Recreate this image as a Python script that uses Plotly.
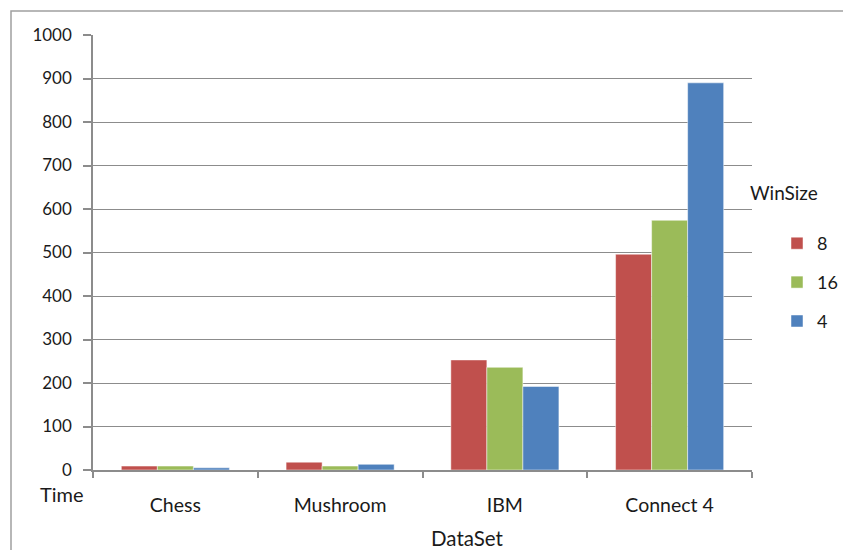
import plotly.graph_objects as go

categories = ["Chess", "Mushroom", "IBM", "Connect 4"]
series_names = ["8", "16", "4"]
vals_8 = [9, 18, 253, 496]
vals_16 = [9, 9, 236, 574]
vals_4 = [5, 13, 192, 890]
colors = ["#C0504D", "#9BBB59", "#4F81BD"]

FONT = "Lato"
PW = 750.0  # paper width between margins (l=93, r=0)
PH = 435.0  # paper height between margins (t=35, b=80)
fig = go.Figure()
for i, (name, vals) in enumerate(zip(series_names, [vals_8, vals_16, vals_4])):
    fig.add_trace(go.Bar(
        x=categories, y=vals, name=name, legendgroup=name,
        marker=dict(color=colors[i], line=dict(color="rgba(255,255,255,0.6)", width=0.8)),
    ))

grid = "#8C8C8C"
fig.update_layout(
    width=843, height=550,
    margin=dict(l=93, r=0, t=35, b=80),
    paper_bgcolor="white", plot_bgcolor="white",
    barmode="group", bargap=0.344, bargroupgap=0,
    font=dict(family=FONT, size=17, color="#1a1a1a"),
    showlegend=True,
    legend=dict(x=(777 - 93) / PW, y=0.5632, xanchor="left", yanchor="top",
                tracegroupgap=12.5, font=dict(size=18, family=FONT),
                itemwidth=30, bgcolor="rgba(0,0,0,0)"),
    xaxis=dict(domain=[0, 659 / PW], showline=True, linecolor=grid, linewidth=1.5,
               ticks="outside", tickson="boundaries", ticklen=6, tickcolor=grid,
               tickwidth=1.5, showgrid=False, ticklabelstandoff=17,
               tickfont=dict(size=19.5, family=FONT)),
    yaxis=dict(range=[0, 1000], dtick=100, showline=True, linecolor=grid, linewidth=1.5,
               ticks="outside", ticklen=8, tickcolor=grid, tickwidth=1.5,
               showgrid=True, gridcolor=grid, gridwidth=1.3, zeroline=False,
               ticklabelstandoff=8),
    annotations=[
        dict(text="Time", xref="paper", yref="paper", x=(62 - 93) / PW, y=-0.055,
             xanchor="center", yanchor="middle", showarrow=False,
             font=dict(size=20, family=FONT)),
        dict(text="WinSize", xref="paper", yref="paper", x=(748 - 93) / PW, y=0.637,
             xanchor="left", yanchor="middle", showarrow=False,
             font=dict(size=19, family=FONT)),
        dict(text="DataSet", xref="paper", yref="paper", x=(467 - 93) / PW,
             y=(470 - 538) / PH, xanchor="center", yanchor="middle", showarrow=False,
             font=dict(size=20.5, family=FONT)),
    ],
    shapes=[dict(type="rect", xref="paper", yref="paper", x0=(11 - 93) / PW, x1=1.3,
                 y0=-0.4, y1=1.055, line=dict(color="#A0A0A0", width=1.5),
                 fillcolor="rgba(0,0,0,0)", layer="below")],
)
fig.write_html("out.html")
